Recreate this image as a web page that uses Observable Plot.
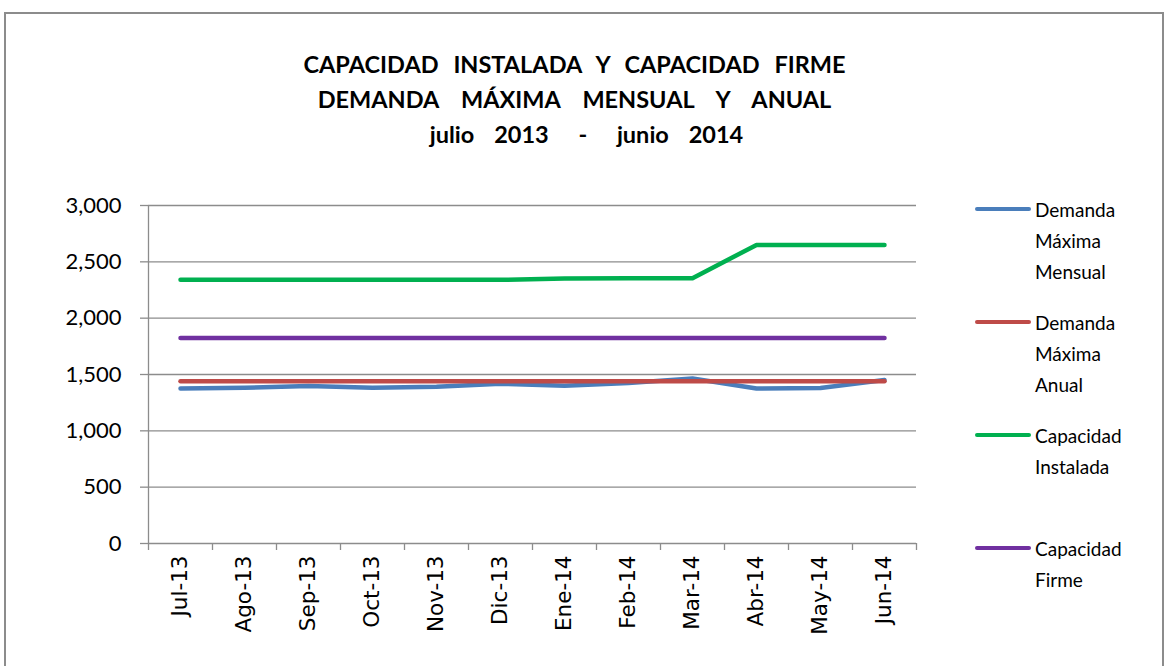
<!DOCTYPE html>
<html>
<head>
<meta charset="utf-8">
<script src="https://cdn.jsdelivr.net/npm/d3@7"></script>
<script src="https://cdn.jsdelivr.net/npm/@observablehq/plot@0.6"></script>
<style>
  html, body { margin: 0; padding: 0; background: #fff; }
  #wrap { position: relative; width: 1169px; height: 666px; overflow: hidden; background: #fff; }
  #frame { position: absolute; left: 4px; top: 12px; width: 1160px; height: 700px; border: 2px solid #8c8c8c; box-sizing: border-box; }
  #title { position: absolute; left: 0; top: 47px; width: 1149px; text-align: center; font-family: Lato, "Open Sans", sans-serif; font-weight: bold; font-size: 23.5px; line-height: 35px; color: #000; white-space: pre; }
  #chart { position: absolute; left: 0; top: 0; }
  #chart svg g[aria-label="y-axis tick label"] text { font-family: Lato, "Open Sans", sans-serif !important; font-size: 22px !important; }
  #chart svg g[aria-label="x-axis tick label"] text { font-family: "DejaVu Sans", Verdana, sans-serif !important; font-size: 21.5px !important; font-weight: normal !important; }
  #legend { position: absolute; left: 975px; top: 0; font-family: Lato, "Open Sans", sans-serif; font-size: 19px; color: #000; }
  .entry { position: absolute; left: 0; width: 200px; }
  .sw { position: absolute; left: 0; width: 56px; height: 4.5px; border-radius: 3px; }
  .txt { position: absolute; left: 60px; line-height: 31px; white-space: nowrap; }
</style>
</head>
<body>
<div id="wrap">
  <div id="frame"></div>
  <div id="title"></div>
  <div id="chart"></div>
  <div id="legend"></div>
</div>
<script>
// ---- data ----
const months = ["Jul-13","Ago-13","Sep-13","Oct-13","Nov-13","Dic-13","Ene-14","Feb-14","Mar-14","Abr-14","May-14","Jun-14"];
const demandaMensual = [1375, 1382, 1398, 1382, 1392, 1418, 1400, 1425, 1465, 1375, 1380, 1452];
const demandaAnual   = [1440, 1440, 1440, 1440, 1440, 1440, 1440, 1440, 1440, 1440, 1440, 1440];
const capInstalada   = [2340, 2340, 2340, 2340, 2340, 2340, 2352, 2355, 2355, 2650, 2650, 2650];
const capFirme       = [1825, 1825, 1825, 1825, 1825, 1825, 1825, 1825, 1825, 1825, 1825, 1825];
const seriesNames = ["Demanda Máxima Mensual", "Demanda Máxima Anual", "Capacidad Instalada", "Capacidad Firme"];
const legendLines = [["Demanda","Máxima","Mensual"],["Demanda","Máxima","Anual"],["Capacidad","Instalada"],["Capacidad","Firme"]];
const seriesColors = ["#4a7ebb", "#be4b48", "#00b050", "#7030a0"];
const yTicks = [0, 500, 1000, 1500, 2000, 2500, 3000];
const titleLines = ["CAPACIDAD  INSTALADA  Y  CAPACIDAD  FIRME", "DEMANDA  MÁXIMA  MENSUAL  Y  ANUAL", "julio  2013   -   junio  2014"];

// ---- build table ----
const allSeries = [demandaMensual, demandaAnual, capInstalada, capFirme];
const rows = [];
allSeries.forEach((vals, s) => vals.forEach((v, i) => rows.push({series: seriesNames[s], i, v})));
const idx = months.map((m, i) => i);
const bounds = months.map((m, i) => i - 0.5).concat([months.length - 0.5]);

const W = 1169, H = 666;
const chart = Plot.plot({
  width: W, height: H,
  marginLeft: 148, marginRight: W - 916, marginTop: 205, marginBottom: H - 543,
  style: {background: "transparent", color: "#000", overflow: "visible"},
  x: {type: "linear", domain: [-0.5, months.length - 0.5], axis: null, label: null},
  y: {domain: [0, 3000], axis: null, label: null},
  color: {domain: seriesNames, range: seriesColors},
  marks: [
    Plot.ruleY(yTicks.slice(1), {stroke: "#8c8c8c", strokeWidth: 1.3}),
    Plot.axisY(yTicks, {label: null, tickSize: 8, tickPadding: 19, stroke: "#8c8c8c", strokeWidth: 1.3, tickFormat: d3.format(","), fill: "#000"}),
    Plot.ruleX([-0.5], {stroke: "#8c8c8c", strokeWidth: 1.3}),
    Plot.ruleY([0], {stroke: "#8c8c8c", strokeWidth: 1.3}),
    Plot.axisX(bounds, {label: null, tickSize: 7, stroke: "#8c8c8c", strokeWidth: 1.3, tickFormat: () => ""}),
    Plot.axisX(idx, {label: null, tickSize: 0, tickPadding: 12, tickRotate: -90, tickFormat: i => months[i], fill: "#000"}),
    Plot.line(rows, {x: "i", y: "v", z: "series", stroke: "series", strokeWidth: 4.5, strokeLinecap: "round", strokeLinejoin: "round"})
  ]
});
document.getElementById("chart").appendChild(chart);

const titleEl = document.getElementById("title");
const wordSp = [1.7, 5.5, 4.2];
const padL = [0, 0, 24];
titleLines.forEach((line, k) => {
  const d = document.createElement("div");
  d.textContent = line;
  d.style.wordSpacing = wordSp[k] + "px";
  d.style.paddingLeft = padL[k] + "px";
  titleEl.appendChild(d);
});

const legendTops = [209, 322, 435, 548];
const legend = document.getElementById("legend");
seriesNames.forEach((name, s) => {
  const e = document.createElement("div");
  e.className = "entry";
  e.style.top = (legendTops[s] - 15.5) + "px";
  const sw = document.createElement("div");
  sw.className = "sw";
  sw.style.background = seriesColors[s];
  sw.style.top = (15.5 - 2.25) + "px";
  e.appendChild(sw);
  const t = document.createElement("div");
  t.className = "txt";
  t.innerHTML = legendLines[s].join("<br>");
  e.appendChild(t);
  legend.appendChild(e);
});
</script>
</body>
</html>
